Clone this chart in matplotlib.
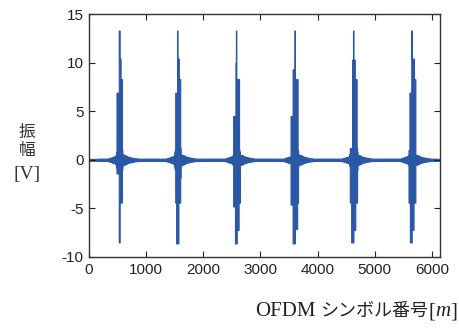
# -*- coding: utf-8 -*-
import numpy as np
import matplotlib
matplotlib.use('Agg')
import matplotlib.pyplot as plt

# burst centres (OFDM symbol index) and envelopes
n_total = 6144
centers = [525, 1545, 2575, 3600, 4625, 5645]
offsets = [-64, -56, -48, -40, -32, -24, -16, -8, 0, 8, 16, 24, 32, 40, 48, 56, 64, 72, 80]
upper1 = [0.4, 0.5, 0.8, 6.9, 6.9, 6.9, 6.9, 6.9, 13.3, 13.3, 10.4, 10.4, 8.3, 8.3, 8.3, 1.0, 0.6, 0.5, 0.4]
lower1 = [-0.4, -0.5, -0.8, -1.4, -1.4, -1.4, -1.4, -1.4, -8.5, -8.5, -4.4, -4.4, -4.4, -4.4, -4.4, -1.0, -0.6, -0.5, -0.4]
upper2 = [0.4, 0.5, 0.8, 1.0, 6.9, 6.9, 6.9, 6.9, 13.3, 10.4, 10.4, 10.4, 8.3, 8.3, 8.3, 1.2, 0.6, 0.5, 0.4]
lower2 = [-0.4, -0.5, -0.8, -1.0, -4.4, -4.4, -8.6, -8.6, -8.6, -8.6, -8.6, -4.4, -4.4, -4.4, -4.4, -1.8, -0.6, -0.5, -0.4]
upper3 = [0.4, 0.5, 4.5, 4.5, 4.5, 4.5, 4.5, 10.0, 13.3, 8.3, 8.3, 8.3, 8.3, 8.3, 8.3, 1.0, 0.8, 0.5, 0.4]
lower3 = [-0.4, -0.5, -4.8, -4.8, -4.8, -4.8, -8.6, -8.6, -8.6, -8.6, -7.2, -7.2, -7.2, -7.2, -4.4, -4.4, -4.4, -0.5, -0.4]
upper4 = [4.5, 4.5, 4.5, 4.5, 9.3, 9.3, 9.3, 9.3, 13.3, 8.3, 8.3, 8.3, 8.3, 8.3, 8.3, 1.0, 0.6, 0.5, 0.4]
lower4 = [-4.6, -4.6, -4.6, -4.6, -8.6, -8.6, -8.6, -8.6, -8.6, -7.1, -7.1, -7.1, -7.1, -7.1, -4.4, -4.4, -0.6, -0.5, -0.4]
upper5 = [0.6, 1.2, 1.2, 1.2, 1.2, 1.2, 10.3, 10.3, 13.3, 10.3, 10.3, 10.3, 1.5, 8.3, 8.3, 8.3, 1.2, 0.8, 0.4]
lower5 = [-0.6, -4.4, -4.4, -4.4, -8.5, -8.5, -8.5, -8.5, -8.5, -7.2, -7.2, -7.2, -7.2, -4.4, -4.4, -4.4, -4.4, -1.0, -0.4]
upper6 = [0.4, 0.5, 1.0, 1.0, 6.9, 6.9, 6.9, 6.9, 13.3, 10.4, 10.4, 10.4, 10.4, 10.4, 8.3, 8.3, 8.3, 0.5, 0.4]
lower6 = [-0.4, -0.5, -4.4, -4.4, -4.4, -8.5, -8.5, -8.5, -8.5, -7.2, -7.2, -7.2, -7.2, -4.4, -4.4, -4.4, -4.4, -0.5, -0.4]
uppers = [upper1, upper2, upper3, upper4, upper5, upper6]
lowers = [lower1, lower2, lower3, lower4, lower5, lower6]
# ringing amplitude before / after each burst, and the noise floor
pre_offsets = [-192, -176, -160, -144, -128, -112, -96, -80]
pre_ring = [0.12, 0.15, 0.2, 0.2, 0.25, 0.3, 0.3, 0.35]
post_offsets = [96, 112, 128, 144, 160, 176, 192, 208, 224, 240, 256, 272, 288, 304, 320, 336, 352, 368]
post_ring = [0.5, 0.45, 0.4, 0.35, 0.3, 0.3, 0.25, 0.25, 0.2, 0.2, 0.2, 0.15, 0.15, 0.15, 0.12, 0.12, 0.12, 0.12]
floor = 0.1

xs, hi, lo = [0], [floor], [-floor]
for c, up, dn in zip(centers, uppers, lowers):
    xs += [c + o for o in pre_offsets] + [c + o for o in offsets] + [c + o for o in post_offsets]
    hi += pre_ring + up + post_ring
    lo += [-v for v in pre_ring] + dn + [-v for v in post_ring]
xs.append(n_total)
hi.append(floor)
lo.append(-floor)

plt.rcParams['axes.unicode_minus'] = False
fig = plt.figure(figsize=(4.6, 3.29), dpi=100)
ax = fig.add_axes([89/460, 1 - 257/329, (440-89)/460, (257-14)/329])

col = '#2b57a7'
ax.fill_between(xs, lo, hi, step='mid', color=col, lw=0.8, edgecolor=col)

ax.set_xlim(0, n_total)
ax.set_ylim(-10, 15)
ax.set_xticks(np.arange(0, 6001, 1000))
ax.set_yticks(np.arange(-10, 16, 5))
ax.tick_params(direction='in', top=True, right=True, length=4, width=0.8,
               labelsize=11, colors='#222222', pad=4)
for lbl in ax.get_xticklabels() + ax.get_yticklabels():
    lbl.set_family('Liberation Sans')
for s in ax.spines.values():
    s.set_color('#333333')
    s.set_linewidth(1.0)

fam = ['Liberation Serif', 'Noto Sans CJK JP']
fig.text(27/460, 1 - 142/329, '振\n幅', ha='center', va='center',
         family=fam, size=12, color='#333333', linespacing=1.1)
fig.text(27/460, 1 - 174/329, '[V]', ha='center', va='center',
         family=fam, size=14, color='#333333')

# x label built right-to-left from pieces (italic m, larger latin text)
r = fig.canvas.get_renderer()
yb = 1 - 316/329
x_end = 457
pieces = [(']', 15, 'normal', 0), ('m', 15, 'italic', 0), ('[', 15, 'normal', 0),
          ('シンボル番号', 13, 'normal', 5), ('OFDM', 15, 'normal', 0)]
for txt, sz, st, gap in pieces:
    t = fig.text(x_end/460, yb, txt, ha='right', va='baseline', family=fam,
                 size=sz, style=st, color='#222222')
    x_end -= t.get_window_extent(r).width + gap

fig.savefig('out.png', dpi=100)
